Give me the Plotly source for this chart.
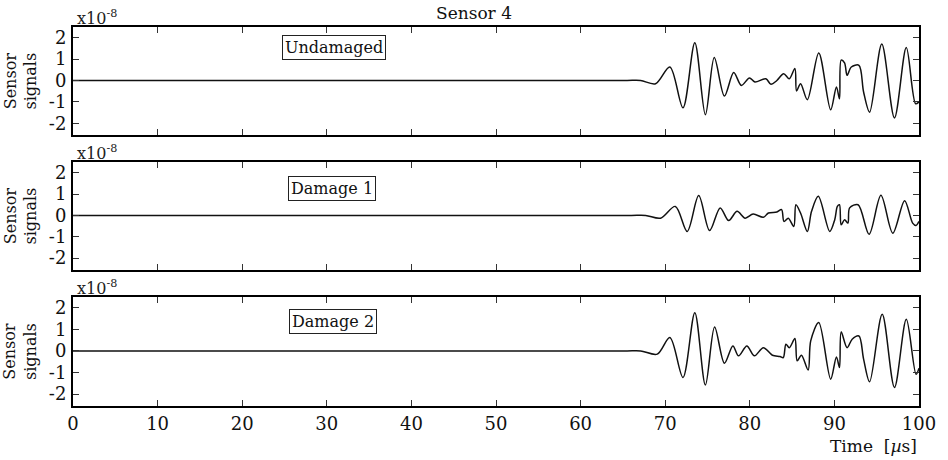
import plotly.graph_objects as go

# Time axis samples [µs] and signal amplitudes [x1e-8] for the three sensor-4 records
t_undamaged = [0, 30, 60, 65.5, 67.1, 68.86, 70.55, 72.1, 73.5, 74.75, 75.8, 77.0, 78.1,
               79.0, 79.96, 80.6, 81.9, 82.5, 83.2, 84.0, 84.66, 85.33, 85.53, 86.0,
               86.8, 88.15, 89.56, 90.24, 90.6, 90.8, 91.2, 91.5, 92.0, 92.9, 93.45,
               94.16, 95.6, 97.1, 98.5, 99.6, 100.0]
v_undamaged = [0, 0, 0, 0, 0, -0.15, 0.63, -1.28, 1.76, -1.6, 1.07, -0.73, 0.37,
               -0.23, 0.12, -0.07, 0.08, -0.18, 0.0, 0.32, 0.08, 0.56, -0.49, -0.15,
               -0.9, 1.29, -1.37, -0.3, -0.86, 0.95, 0.82, 0.24, 0.63, 0.71, -0.54,
               -1.48, 1.7, -1.75, 1.54, -1.09, -1.0]

t_damage1 = [0, 30, 60, 66.0, 67.7, 69.45, 71.2, 72.6, 73.96, 75.25, 76.5, 77.5, 78.5,
             79.45, 80.4, 81.6, 82.2, 83.2, 83.76, 84.04, 84.55, 85.2, 85.45, 86.0,
             86.8, 87.3, 88.1, 89.45, 90.04, 90.35, 90.6, 90.8, 91.2, 91.6, 91.8,
             92.8, 94.1, 95.5, 96.9, 98.3, 99.25, 99.65, 100.0]
v_damage1 = [0, 0, 0, 0, 0, -0.13, 0.42, -0.75, 0.93, -0.71, 0.35, -0.24, 0.19,
             -0.13, 0.06, -0.09, 0.11, 0.16, 0.27, -0.28, -0.13, -0.52, 0.5, 0.11,
             -0.75, 0.19, 0.89, -0.75, -0.2, 0.42, 0.5, -0.44, -0.2, -0.36, 0.35,
             0.5, -0.88, 0.94, -0.83, 0.69, -0.36, -0.47, -0.28]

t_damage2 = [0, 30, 60, 65.5, 67.1, 69.06, 70.55, 72.1, 73.5, 74.75, 75.84, 77.0, 78.0,
             78.67, 79.65, 80.55, 81.6, 82.67, 83.57, 83.96, 84.27, 84.67, 85.33,
             85.6, 86.1, 86.9, 87.2, 88.15, 89.56, 90.24, 90.6, 90.8, 91.5, 92.1,
             92.9, 93.45, 94.16, 95.65, 97.1, 98.5, 99.65, 100.0]
v_damage2 = [0, 0, 0, 0, 0, -0.15, 0.62, -1.23, 1.77, -1.58, 1.11, -0.57, 0.23,
             -0.23, 0.23, -0.23, 0.15, -0.2, -0.26, -0.31, 0.31, 0.15, 0.57,
             -0.46, -0.2, -0.88, 0.46, 1.31, -1.31, -0.28, -0.77, 0.88, 0.15, 0.54,
             0.69, -0.38, -1.43, 1.69, -1.69, 1.46, -1.08, -0.8]

panel_labels = ["Undamaged", "Damage 1", "Damage 2"]
label_pos = [(30.8, 1.53), (30.6, 1.27), (30.7, 1.36)]
x_ticks = [0, 10, 20, 30, 40, 50, 60, 70, 80, 90, 100]
y_ticks = [-2, -1, 0, 1, 2]
y_tick_text = ["-2", "-1", "0", "1", "2"]

series = [(t_undamaged, v_undamaged), (t_damage1, v_damage1), (t_damage2, v_damage2)]
domains = [[0.715, 1.0], [0.359, 0.644], [0.0, 0.288]]

FONT = "DejaVu Serif, Liberation Serif, serif"
fig = go.Figure()

for i, (t, v) in enumerate(series):
    sfx = "" if i == 0 else str(i + 1)
    fig.add_trace(go.Scatter(
        x=t, y=v, mode="lines", xaxis="x" + sfx, yaxis="y" + sfx,
        line=dict(color="#111111", width=1.5, shape="spline", smoothing=0.9),
        showlegend=False, hoverinfo="skip"))

    common = dict(showline=True, linecolor="black", linewidth=2, mirror="ticks",
                  ticks="inside", ticklen=6, tickwidth=1, tickcolor="#333333",
                  showgrid=False, zeroline=False,
                  tickfont=dict(family=FONT, size=18, color="#111111"))
    fig.layout["xaxis" + sfx] = dict(
        common, range=[0, 100], tickvals=x_ticks, anchor="y" + sfx,
        showticklabels=(i == 2))
    fig.layout["yaxis" + sfx] = dict(
        common, range=[-2.55, 2.5], tickvals=y_ticks, ticktext=y_tick_text,
        anchor="x" + sfx, domain=domains[i], ticklabelstandoff=1)

    fig.add_annotation(
        x=label_pos[i][0], y=label_pos[i][1], xref="x" + sfx, yref="y" + sfx,
        text=panel_labels[i], showarrow=False,
        font=dict(family=FONT, size=16, color="#111111"),
        bordercolor="#222222", borderwidth=1, borderpad=2, bgcolor="white")

    # exponent marker above each panel
    fig.add_annotation(
        x=0, y=1, xref="paper", yref="y" + sfx + " domain",
        xanchor="left", yanchor="bottom", xshift=2, yshift=-3,
        text="x10<sup>-8</sup>", showarrow=False,
        font=dict(family=FONT, size=16, color="#222222"))

    # vertical axis label
    fig.add_annotation(
        x=-0.062, y=0.5, xref="paper", yref="y" + sfx + " domain",
        xanchor="center", yanchor="middle", textangle=-90,
        text="Sensor<br>signals", showarrow=False,
        font=dict(family=FONT, size=16, color="#111111"))

fig.add_annotation(
    x=0.474, y=1, xref="paper", yref="paper", yanchor="bottom", yshift=2,
    text="Sensor 4", showarrow=False,
    font=dict(family=FONT, size=17, color="#111111"))

fig.add_annotation(
    x=1.0, y=0, xref="paper", yref="paper", xanchor="right", yanchor="middle",
    yshift=-40, text="Time  [<i>µ</i>s]", showarrow=False,
    font=dict(family=FONT, size=17, color="#111111"))

fig.update_layout(
    width=948, height=460,
    margin=dict(l=73, r=25, t=27, b=54),
    paper_bgcolor="white", plot_bgcolor="white")

fig.write_html("out.html")
